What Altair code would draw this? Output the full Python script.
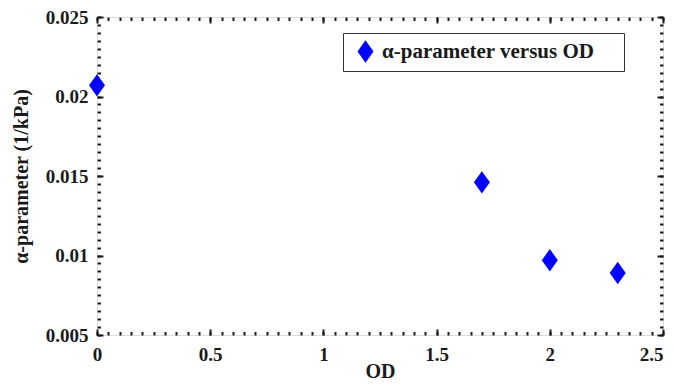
import altair as alt
import pandas as pd

# ---- data ----
od = [0.0, 1.7, 2.0, 2.3]
alpha = [0.0207, 0.0146, 0.0097, 0.0089]
series_name = "α-parameter versus OD"

x_major = [0, 0.5, 1, 1.5, 2, 2.5]
y_major = [0.005, 0.01, 0.015, 0.02, 0.025]
x_minor = [round(i * 0.05, 2) for i in range(51)]
y_minor = [round(0.005 + i * 0.0005, 4) for i in range(41)]

# trailing no-break spaces widen the legend box on the right (zero-width
# space at the end keeps them from being trimmed)
df = pd.DataFrame({
    "od": od,
    "alpha": alpha,
    "series": [series_name + "\u00a0" * 4 + "\u200b"] * len(od),
})

FONT = "Liberation Serif"
INK = "#1a1a1a"
W, H = 566, 318
DIAMOND = "M0,-1.4L1,0L0,1.4L-1,0Z"

xs = alt.Scale(domain=[0, 2.5], nice=False, zero=False)
ys = alt.Scale(domain=[0.005, 0.025], nice=False, zero=False)

base = alt.Chart(df)


def ticks_axis(orient, values, size):
    return alt.Axis(orient=orient, values=values, labels=False, domain=False,
                    grid=False, ticks=True, tickSize=size, tickWidth=2,
                    tickColor=INK, offset=-size, title=None)


def guide_layer(xa, ya):
    return base.mark_point(opacity=0).encode(
        x=alt.X("od:Q", scale=xs, axis=xa),
        y=alt.Y("alpha:Q", scale=ys, axis=ya),
    )


label_x = alt.Axis(orient="bottom", values=x_major, format="~g", ticks=False,
                   tickSize=0, domain=False, grid=False, labelFlush=False,
                   labelAlign=alt.ConditionalAxisLabelAlign(
                       condition={"test": "datum.value >= 2.5", "value": "right"},
                       value="center"),
                   labelFont=FONT, labelFontSize=19, labelFontWeight="bold",
                   labelColor=INK, labelPadding=10, title="OD",
                   titleFont=FONT, titleFontSize=20, titleFontWeight="bold",
                   titleColor=INK, titleY=26)
label_y = alt.Axis(orient="left", values=y_major, format="~g", ticks=False,
                   tickSize=0, domain=False, grid=False, labelFlush=False,
                   labelFont=FONT, labelFontSize=19, labelFontWeight="bold",
                   labelColor=INK, labelPadding=9,
                   title="α-parameter (1/kPa)",
                   titleFont=FONT, titleFontSize=20, titleFontWeight="bold",
                   titleColor=INK, titleX=-66)

layers = [
    guide_layer(label_x, label_y),
    guide_layer(ticks_axis("bottom", x_major, 6), ticks_axis("left", y_major, 6)),
    guide_layer(ticks_axis("bottom", x_minor, 3.5), ticks_axis("left", y_minor, 3.5)),
    guide_layer(ticks_axis("top", x_major, 6), ticks_axis("right", y_major, 6)),
    guide_layer(ticks_axis("top", x_minor, 3.5), ticks_axis("right", y_minor, 3.5)),
]

points = base.mark_point(filled=True, size=256, opacity=1, color="#0000ff",
                         strokeWidth=0).encode(
    x=alt.X("od:Q", scale=xs, axis=None),
    y=alt.Y("alpha:Q", scale=ys, axis=None),
    shape=alt.Shape("series:N", scale=alt.Scale(range=[DIAMOND]),
                    legend=alt.Legend(orient="none", legendX=246, legendY=16,
                                      title=None, padding=8, strokeColor="#333",
                                      fillColor="white", labelFont=FONT,
                                      labelFontSize=21, labelFontWeight="bold",
                                      labelColor=INK, labelOffset=6,
                                      symbolOffset=4, symbolSize=256,
                                      symbolFillColor="#0000ff",
                                      symbolStrokeWidth=0, cornerRadius=0,
                                      labelLimit=400)),
)

chart = alt.layer(*layers, points).resolve_axis(
    x="independent", y="independent"
).properties(
    width=W, height=H,
    autosize=alt.AutoSizeParams(type="none"),
    padding={"left": 89, "top": 9, "right": 3, "bottom": 45},
).configure_view(stroke=INK, strokeWidth=2).configure(font=FONT)

chart.save("out.html", embed_options={"renderer": "svg", "actions": False})
